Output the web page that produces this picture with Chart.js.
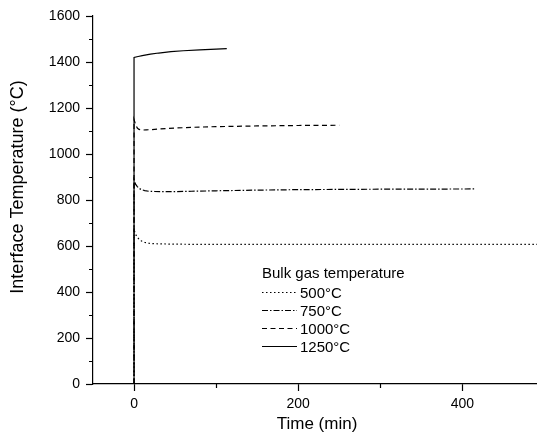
<!DOCTYPE html>
<html lang="en">
<head>
<meta charset="UTF-8">
<title>Interface temperature</title>
<script src="https://cdn.jsdelivr.net/npm/chart.js"></script>
<style>
  html, body { margin: 0; padding: 0; background: #fff; }
  canvas { display: block; }
</style>
</head>
<body>
<canvas id="grafico" width="537" height="442"></canvas>
<script>
// dados (tempo em min, temperatura em °C)
var tempo500 = [0, 0, 1, 2, 4, 6, 9, 13, 18, 25, 35, 50, 80, 150, 250, 350, 491];
var temp500  = [0, 672, 660, 650, 638, 630, 622, 616, 612, 610, 609, 608, 607, 607, 607, 607, 607];

var tempo750 = [0, 0, 1, 2, 4, 6, 9, 13, 18, 25, 40, 70, 100, 150, 200, 300, 415];
var temp750  = [0, 888, 878, 868, 858, 851, 845, 841, 838, 837, 836, 838, 840, 843, 845, 847, 848];

var tempo1000 = [0, 0, 1, 2, 4, 6, 10, 15, 25, 40, 70, 100, 150, 200, 250];
var temp1000  = [0, 1150, 1138, 1126, 1113, 1107, 1104, 1105, 1107, 1111, 1116, 1119, 1122, 1124, 1125];

var tempo1250 = [0, 0, 5, 10, 20, 30, 45, 60, 80, 100, 113];
var temp1250  = [0, 1420, 1424, 1428, 1434, 1439, 1445, 1449, 1453, 1456, 1458];

var rotulos = ['500°C', '750°C', '1000°C', '1250°C'];
var tracos = [[1.5, 2.5], [6, 2, 1.5, 2], [5, 3.5], []];

var ticksX = [0, 200, 400];
var ticksY = [0, 200, 400, 600, 800, 1000, 1200, 1400, 1600];
var menoresX = [100, 300];
var menoresY = [100, 300, 500, 700, 900, 1100, 1300, 1500];

var fonte = "'Liberation Sans', Arial, sans-serif";

function pontos(ts, vs) {
    var lista = [];
    for (var i = 0; i < ts.length; i++) {
        lista.push({ x: ts[i], y: vs[i] });
    }
    return lista;
}

var series = [pontos(tempo500, temp500), pontos(tempo750, temp750), pontos(tempo1000, temp1000), pontos(tempo1250, temp1250)];

var datasets = [];
for (var i = 0; i < series.length; i++) {
    datasets.push({
        label: rotulos[i],
        data: series[i],
        borderColor: '#000',
        borderWidth: 1.2,
        borderDash: tracos[i],
        pointRadius: 0,
        tension: 0,
        fill: false
    });
}

// ticks menores, títulos dos eixos e legenda
var extras = {
    id: 'extras',
    afterDraw: function (chart) {
        var ctx = chart.ctx;
        var sx = chart.scales.x, sy = chart.scales.y;
        var area = chart.chartArea;
        ctx.save();
        ctx.strokeStyle = '#000';
        ctx.lineWidth = 1.2;
        ctx.beginPath();
        menoresX.forEach(function (v) {
            var px = Math.round(sx.getPixelForValue(v)) + 0.5;
            ctx.moveTo(px, area.bottom);
            ctx.lineTo(px, area.bottom + 4);
        });
        menoresY.forEach(function (v) {
            var py = Math.round(sy.getPixelForValue(v)) + 0.5;
            ctx.moveTo(area.left, py);
            ctx.lineTo(area.left - 4, py);
        });
        ctx.stroke();

        ctx.fillStyle = '#000';
        ctx.textAlign = 'center';
        ctx.textBaseline = 'middle';
        ctx.font = '17px ' + fonte;
        ctx.fillText('Time (min)', 317, 424);

        ctx.translate(18, 187);
        ctx.rotate(-Math.PI / 2);
        ctx.font = '18px ' + fonte;
        ctx.fillText('Interface Temperature (°C)', 0, 0);
        ctx.restore();

        // legenda
        ctx.save();
        ctx.fillStyle = '#000';
        ctx.textAlign = 'left';
        ctx.textBaseline = 'middle';
        ctx.font = '15px ' + fonte;
        ctx.fillText('Bulk gas temperature', 262, 274);
        chart.data.datasets.forEach(function (ds, k) {
            var y = 292.5 + k * 18;
            ctx.strokeStyle = '#000';
            ctx.lineWidth = 1.2;
            ctx.setLineDash(ds.borderDash);
            ctx.beginPath();
            ctx.moveTo(262, y);
            ctx.lineTo(297, y);
            ctx.stroke();
            ctx.setLineDash([]);
            ctx.fillText(ds.label, 300, y + 1);
        });
        ctx.restore();
    }
};

function semSeparador(v) { return String(v); }

new Chart(document.getElementById('grafico'), {
    type: 'line',
    data: { datasets: datasets },
    plugins: [extras],
    options: {
        responsive: false,
        animation: false,
        layout: { padding: { top: 16, right: 0, bottom: 0, left: 0 } },
        plugins: { legend: { display: false }, tooltip: { enabled: false } },
        scales: {
            x: {
                type: 'linear',
                min: -50,
                max: 491,
                afterBuildTicks: function (s) { s.ticks = ticksX.map(function (v) { return { value: v }; }); },
                afterFit: function (s) { s.height = 58; },
                border: { display: true, color: '#000', width: 1.2 },
                grid: { display: true, drawOnChartArea: false, drawTicks: true, tickLength: 7, tickColor: '#000', tickWidth: 1.2 },
                ticks: { color: '#000', font: { family: fonte, size: 14 }, padding: 5, maxRotation: 0, callback: semSeparador }
            },
            y: {
                type: 'linear',
                min: 0,
                max: 1600,
                afterBuildTicks: function (s) { s.ticks = ticksY.map(function (v) { return { value: v }; }); },
                afterFit: function (s) { s.width = 93; },
                border: { display: true, color: '#000', width: 1.2 },
                grid: { display: true, drawOnChartArea: false, drawTicks: true, tickLength: 7, tickColor: '#000', tickWidth: 1.2 },
                ticks: { color: '#000', font: { family: fonte, size: 14 }, padding: 6, callback: semSeparador }
            }
        }
    }
});
</script>
</body>
</html>
